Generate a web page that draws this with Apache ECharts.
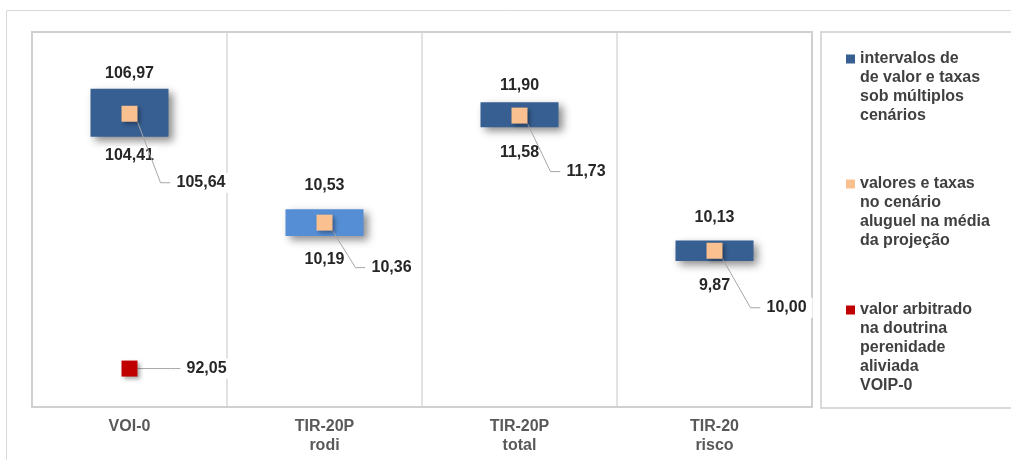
<!DOCTYPE html>
<html>
<head>
<meta charset="utf-8">
<script src="https://cdn.jsdelivr.net/npm/echarts@6.0.0/dist/echarts.min.js"></script>
<style>
  html, body { margin: 0; padding: 0; background: #fff; }
  #chart { width: 1011px; height: 460px; }
</style>
</head>
<body>
<div id="chart"></div>
<script>
// values
const categories = ['VOI-0', 'TIR-20P\nrodi', 'TIR-20P\ntotal', 'TIR-20\nrisco']
const rangeLow = [104.41, 10.19, 11.58, 9.87]
const rangeHigh = [106.97, 10.53, 11.90, 10.13]
const midValue = [105.64, 10.36, 11.73, 10.00]
const arbitrated = [92.05] // only for VOI-0
const axisMin = [90, 8, 8, 8]
const axisMax = [110, 12.8, 12.8, 12.8]

const L1 = 'intervalos de\nde valor e taxas\nsob múltiplos\ncenários'
const L2 = 'valores e taxas\nno cenário\naluguel na média\nda projeção'
const L3 = 'valor arbitrado\nna doutrina\nperenidade\naliviada\nVOIP-0'

// layout tweaks per panel (label offsets)
const topGap = [7, 16, 9, 15]
const lowGap = [10, 15, 16, 16]
const midShift = [[28, 69], [28, 45], [28, 56], [33, 57]]

const FONT = "'Liberation Sans', Arial, sans-serif"
const fmt = v => v.toFixed(2).replace('.', ',')

const labelBase = {
  show: true,
  color: '#262626',
  fontFamily: FONT,
  fontSize: 16,
  fontWeight: 'bold',
  textBorderWidth: 0
}

const chart = echarts.init(document.getElementById('chart'))

const grid = [], xAxis = [], yAxis = [], series = []
categories.forEach((cat, i) => {
  grid.push({
    left: 32 + 195 * i, top: 32, width: 195, height: 375,
    show: true, borderColor: '#d9d9d9', borderWidth: 1,
    outerBoundsMode: 'none'
  })
  xAxis.push({
    type: 'category', gridIndex: i, data: [cat],
    axisLine: { show: false }, axisTick: { show: false },
    axisLabel: {
      margin: 10, color: '#595959', fontFamily: FONT,
      fontSize: 16, fontWeight: 'bold', lineHeight: 19
    }
  })
  yAxis.push({
    type: 'value', gridIndex: i, min: axisMin[i], max: axisMax[i],
    show: false, splitLine: { show: false }
  })

  // invisible base of the floating bar, carries the low label
  series.push({
    type: 'bar', name: 'base' + i, xAxisIndex: i, yAxisIndex: i,
    stack: 'r' + i, barWidth: 78, silent: true,
    itemStyle: { color: 'rgba(0,0,0,0)' },
    label: Object.assign({}, labelBase, {
      position: 'insideTop', distance: lowGap[i],
      backgroundColor: '#fff', padding: [1, 4],
      formatter: () => fmt(rangeLow[i])
    }),
    data: [rangeLow[i]]
  })
  series.push({
    type: 'bar', name: L1, xAxisIndex: i, yAxisIndex: i,
    stack: 'r' + i, barWidth: 78,
    itemStyle: {
      color: i === 1 ? '#558ED5' : '#375F92',
      shadowBlur: 8, shadowOffsetX: 4, shadowOffsetY: 4,
      shadowColor: 'rgba(0,0,0,0.45)'
    },
    label: Object.assign({}, labelBase, {
      position: 'top', distance: topGap[i],
      formatter: () => fmt(rangeHigh[i])
    }),
    data: [rangeHigh[i] - rangeLow[i]]
  })
  series.push({
    type: 'scatter', name: L2, xAxisIndex: i, yAxisIndex: i,
    symbol: 'rect', symbolSize: 16, z: 3,
    itemStyle: {
      color: '#FAC090', opacity: 1,
      shadowBlur: 4, shadowOffsetX: 2, shadowOffsetY: 2,
      shadowColor: 'rgba(0,0,0,0.35)'
    },
    label: Object.assign({}, labelBase, {
      position: 'right', distance: 5,
      backgroundColor: '#fff', padding: [2, 6],
      formatter: p => fmt(p.value)
    }),
    labelLayout: { dx: midShift[i][0], dy: midShift[i][1] },
    labelLine: { show: true, length2: 10, lineStyle: { color: '#a6a6a6', width: 1 } },
    data: [midValue[i]]
  })
})

series.push({
  type: 'scatter', name: L3, xAxisIndex: 0, yAxisIndex: 0,
  symbol: 'rect', symbolSize: 16, z: 3,
  itemStyle: {
    color: '#C00000', opacity: 1,
    shadowBlur: 4, shadowOffsetX: 2, shadowOffsetY: 2,
    shadowColor: 'rgba(0,0,0,0.35)'
  },
  label: Object.assign({}, labelBase, {
    position: 'right', distance: 5,
    backgroundColor: '#fff', padding: [2, 6],
    formatter: p => fmt(p.value)
  }),
  labelLayout: { dx: 38, dy: 0 },
  labelLine: { show: true, length2: 10, lineStyle: { color: '#a6a6a6', width: 1 } },
  data: [arbitrated[0]]
})

// one legend per entry; blank lines in front push the text down so
// the square sits next to the first line
const LH = 19
const legendOf = (name, lines, iconY) => ({
  data: [name], orient: 'vertical', left: 846,
  top: iconY - (2 * lines - 1) * LH / 2,
  padding: 0, icon: 'rect', itemWidth: 9, itemHeight: 9,
  selectedMode: false,
  itemStyle: { shadowBlur: 0, shadowColor: 'rgba(0,0,0,0)', borderWidth: 0, opacity: 1 },
  formatter: n => '\n'.repeat(lines - 1) + n,
  textStyle: {
    color: '#404040', fontFamily: FONT, fontSize: 16, fontWeight: 'bold',
    lineHeight: LH
  }
})

chart.setOption({
  animation: false,
  grid, xAxis, yAxis, series,
  legend: [legendOf(L1, 4, 59), legendOf(L2, 4, 184), legendOf(L3, 5, 310)],
  graphic: [
    { type: 'rect', silent: true, z: -1,
      shape: { x: 6.5, y: 10.5, width: 1100, height: 600 },
      style: { fill: 'none', stroke: '#d9d9d9', lineWidth: 1 } },
    { type: 'rect', silent: true,
      shape: { x: 32, y: 32, width: 780, height: 375 },
      style: { fill: 'none', stroke: '#d0d0d0', lineWidth: 2 } },
    { type: 'rect', silent: true,
      shape: { x: 821, y: 32, width: 300, height: 376 },
      style: { fill: 'none', stroke: '#d9d9d9', lineWidth: 2 } }
  ]
})
</script>
</body>
</html>
